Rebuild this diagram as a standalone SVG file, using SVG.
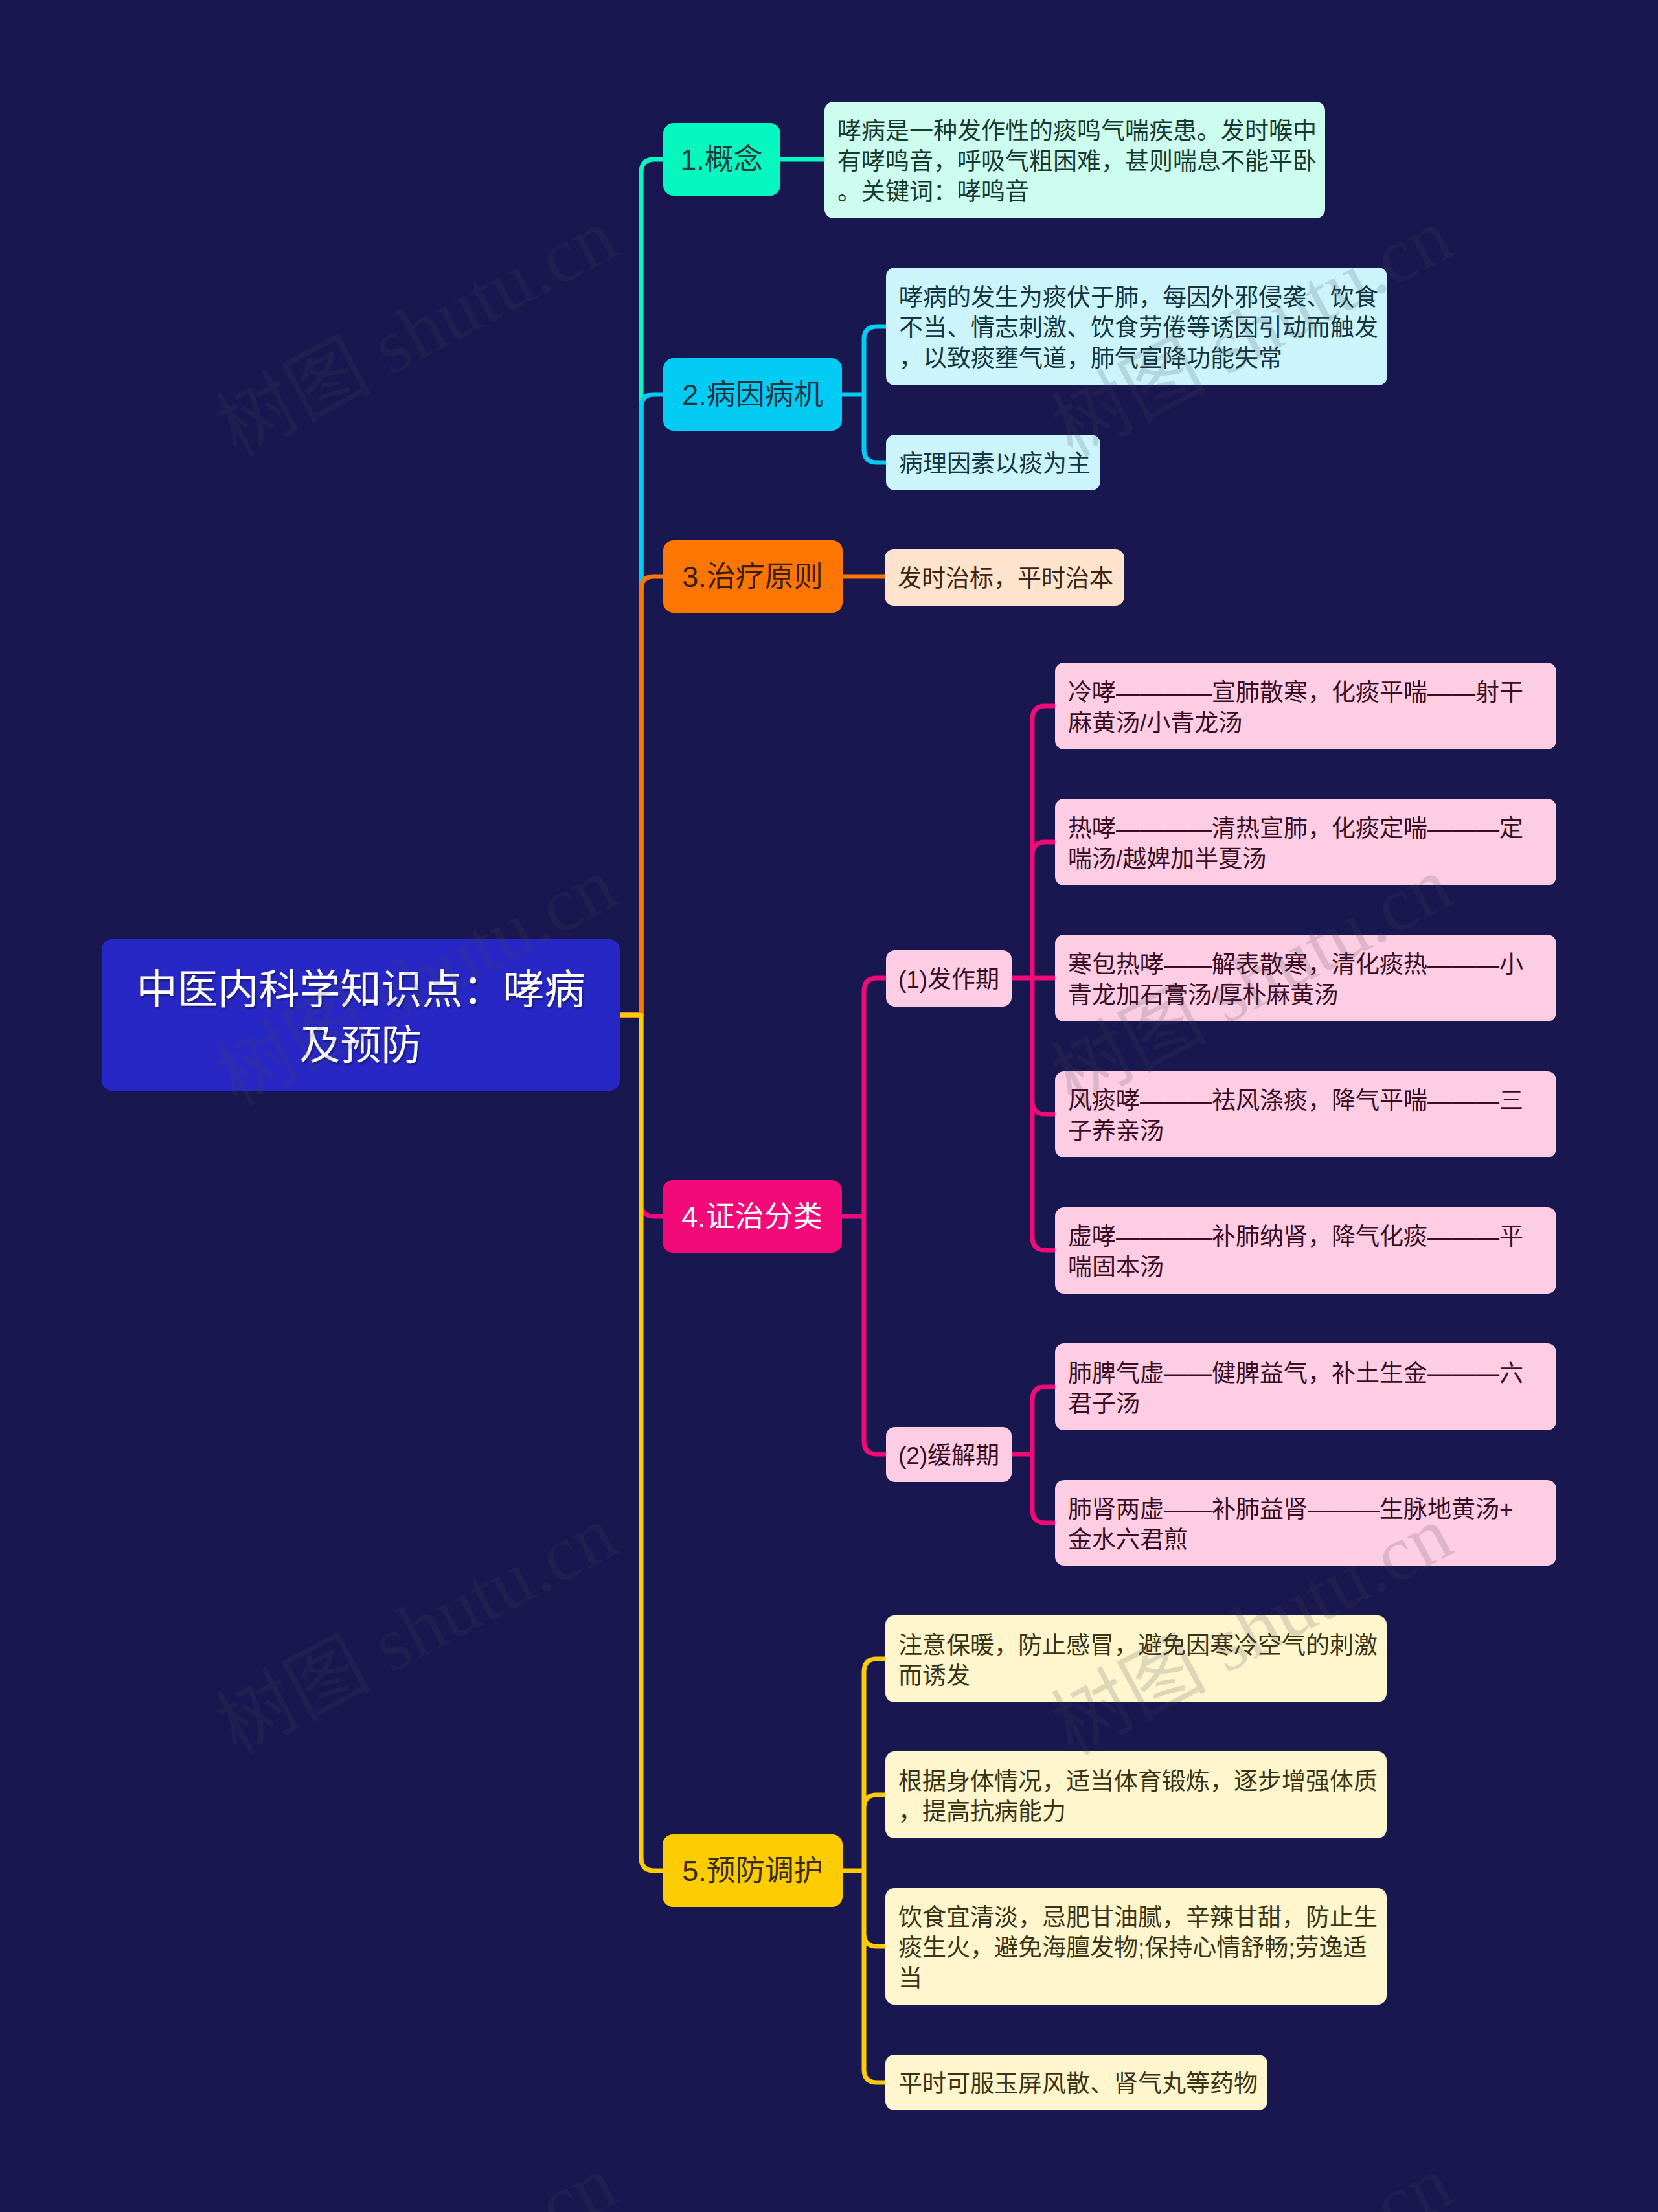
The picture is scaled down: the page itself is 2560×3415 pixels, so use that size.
<svg xmlns="http://www.w3.org/2000/svg" width="2560" height="3415" viewBox="0 0 2560 3415">
<defs>
<style>
.t{font-family:"Liberation Sans","Noto Sans CJK SC",sans-serif;}
.l1{font-size:45px;text-anchor:middle;}
.l2{font-size:37px;}
.ln{fill:none;stroke-width:7;stroke-linejoin:round;stroke-linecap:butt;}
.wm{font-family:"Liberation Serif","Noto Sans CJK SC",serif;font-size:120px;fill:#4a4a58;fill-opacity:0.18;text-anchor:middle;}
</style>
<filter id="sh" x="-5%" y="-5%" width="110%" height="120%"><feDropShadow dx="2" dy="3" stdDeviation="1.5" flood-color="#000" flood-opacity="0.35"/></filter>
</defs>
<rect x="0" y="0" width="2560" height="3415" fill="#18174f"/>

<g id="connectors">
<path class="ln" stroke="#06f7c0" d="M957 1567 H990 V266 Q990 246 1010 246 H1024"/>
<path class="ln" stroke="#02ccf4" d="M957 1567 H990 V629 Q990 609 1010 609 H1024"/>
<path class="ln" stroke="#fd7604" d="M957 1567 H990 V910 Q990 890 1010 890 H1024"/>
<path class="ln" stroke="#f10a78" d="M957 1567 H990 V1858 Q990 1878 1010 1878 H1024"/>
<path class="ln" stroke="#fecc02" d="M957 1567 H990 V2868 Q990 2888 1010 2888 H1024"/>
<path class="ln" stroke="#06f7c0" d="M1205 246 H1273"/>
<path class="ln" stroke="#02ccf4" d="M1300 609 H1334 V524 Q1334 504 1354 504 H1368 M1334 609 V694 Q1334 714 1354 714 H1368"/>
<path class="ln" stroke="#fd7604" d="M1301 890 H1366"/>
<path class="ln" stroke="#f10a78" d="M1300 1878 H1334 V1530 Q1334 1510 1354 1510 H1368 M1334 1878 V2225 Q1334 2245 1354 2245 H1368"/>
<path class="ln" stroke="#f10a78" d="M1562 1510 H1594 V1110 Q1594 1090 1614 1090 H1629 M1594 1320 Q1594 1300 1614 1300 H1629 M1594 1510 H1629 M1594 1510 V1700 Q1594 1720 1614 1720 H1629 M1594 1700 V1910 Q1594 1930 1614 1930 H1629"/>
<path class="ln" stroke="#f10a78" d="M1562 2245 H1594 V2161 Q1594 2141 1614 2141 H1629 M1594 2245 V2331 Q1594 2351 1614 2351 H1629"/>
<path class="ln" stroke="#fecc02" d="M1301 2888 H1334 V2581 Q1334 2561 1354 2561 H1367 M1334 2791 Q1334 2771 1354 2771 H1367 M1334 2888 V2985 Q1334 3005 1354 3005 H1367 M1334 2985 V3195 Q1334 3215 1354 3215 H1367"/>
</g>

<g id="root">
<rect x="157" y="1450" width="800" height="234" rx="16" fill="#2727c5"/>
<text class="t" font-size="63" text-anchor="middle" fill="#ffffff" filter="url(#sh)"><tspan x="557" y="1549">中医内科学知识点：哮病</tspan><tspan x="557" y="1635">及预防</tspan></text>
</g>

<g id="n1">
<rect x="1024" y="190" width="181" height="112" rx="16" fill="#06f7c0"/>
<text class="t l1" x="1114" y="262" fill="#1d3a3a">1.概念</text>
</g>
<g id="n1-1">
<rect x="1273" y="157" width="773" height="180" rx="14" fill="#cdfdef"/>
<text class="t l2" fill="#173a30"><tspan x="1293" y="215">哮病是一种发作性的痰鸣气喘疾患。发时喉中</tspan><tspan x="1293" y="262">有哮鸣音，呼吸气粗困难，甚则喘息不能平卧</tspan><tspan x="1293" y="309">。关键词：哮鸣音</tspan></text>
</g>

<g id="n2">
<rect x="1024" y="553" width="276" height="112" rx="16" fill="#02ccf4"/>
<text class="t l1" x="1162" y="625" fill="#1b3340">2.病因病机</text>
</g>
<g id="n2-1">
<rect x="1368" y="413" width="774" height="182" rx="14" fill="#cbf4fd"/>
<text class="t l2" fill="#133640"><tspan x="1388" y="472">哮病的发生为痰伏于肺，每因外邪侵袭、饮食</tspan><tspan x="1388" y="519">不当、情志刺激、饮食劳倦等诱因引动而触发</tspan><tspan x="1388" y="566">，以致痰壅气道，肺气宣降功能失常</tspan></text>
</g>
<g id="n2-2">
<rect x="1368" y="671" width="331" height="86" rx="14" fill="#cbf4fd"/>
<text class="t l2" x="1388" y="729" fill="#133640">病理因素以痰为主</text>
</g>

<g id="n3">
<rect x="1024" y="834" width="277" height="112" rx="16" fill="#fd7604"/>
<text class="t l1" x="1162" y="906" fill="#3a1e08">3.治疗原则</text>
</g>
<g id="n3-1">
<rect x="1366" y="848" width="370" height="87" rx="14" fill="#ffe3cc"/>
<text class="t l2" x="1386" y="906" fill="#3d2413">发时治标，平时治本</text>
</g>

<g id="n4">
<rect x="1023" y="1822" width="277" height="112" rx="16" fill="#f10a78"/>
<text class="t l1" x="1161" y="1894" fill="#ffffff">4.证治分类</text>
</g>
<g id="n4-1">
<rect x="1368" y="1467" width="194" height="87" rx="14" fill="#fdcde3"/>
<text class="t l2" x="1465" y="1525" text-anchor="middle" fill="#3b0d24">(1)发作期</text>
</g>
<g id="n4-1-1">
<rect x="1629" y="1023" width="774" height="134" rx="14" fill="#fdcde3"/>
<text class="t l2" fill="#3b0d24"><tspan x="1649" y="1082">冷哮————宣肺散寒，化痰平喘——射干</tspan><tspan x="1649" y="1129">麻黄汤/小青龙汤</tspan></text>
</g>
<g id="n4-1-2">
<rect x="1629" y="1233" width="774" height="134" rx="14" fill="#fdcde3"/>
<text class="t l2" fill="#3b0d24"><tspan x="1649" y="1292">热哮————清热宣肺，化痰定喘———定</tspan><tspan x="1649" y="1339">喘汤/越婢加半夏汤</tspan></text>
</g>
<g id="n4-1-3">
<rect x="1629" y="1443" width="774" height="134" rx="14" fill="#fdcde3"/>
<text class="t l2" fill="#3b0d24"><tspan x="1649" y="1502">寒包热哮——解表散寒，清化痰热———小</tspan><tspan x="1649" y="1549">青龙加石膏汤/厚朴麻黄汤</tspan></text>
</g>
<g id="n4-1-4">
<rect x="1629" y="1654" width="774" height="133" rx="14" fill="#fdcde3"/>
<text class="t l2" fill="#3b0d24"><tspan x="1649" y="1712">风痰哮———祛风涤痰，降气平喘———三</tspan><tspan x="1649" y="1759">子养亲汤</tspan></text>
</g>
<g id="n4-1-5">
<rect x="1629" y="1864" width="774" height="133" rx="14" fill="#fdcde3"/>
<text class="t l2" fill="#3b0d24"><tspan x="1649" y="1922">虚哮————补肺纳肾，降气化痰———平</tspan><tspan x="1649" y="1969">喘固本汤</tspan></text>
</g>
<g id="n4-2">
<rect x="1368" y="2203" width="194" height="85" rx="14" fill="#fdcde3"/>
<text class="t l2" x="1465" y="2260" text-anchor="middle" fill="#3b0d24">(2)缓解期</text>
</g>
<g id="n4-2-1">
<rect x="1629" y="2074" width="774" height="134" rx="14" fill="#fdcde3"/>
<text class="t l2" fill="#3b0d24"><tspan x="1649" y="2133">肺脾气虚——健脾益气，补土生金———六</tspan><tspan x="1649" y="2180">君子汤</tspan></text>
</g>
<g id="n4-2-2">
<rect x="1629" y="2285" width="774" height="132" rx="14" fill="#fdcde3"/>
<text class="t l2" fill="#3b0d24"><tspan x="1649" y="2343">肺肾两虚——补肺益肾———生脉地黄汤+</tspan><tspan x="1649" y="2390">金水六君煎</tspan></text>
</g>

<g id="n5">
<rect x="1023" y="2832" width="278" height="112" rx="16" fill="#fecc02"/>
<text class="t l1" x="1162" y="2904" fill="#3a2e08">5.预防调护</text>
</g>
<g id="n5-1">
<rect x="1367" y="2494" width="774" height="134" rx="14" fill="#fff6cd"/>
<text class="t l2" fill="#3a3314"><tspan x="1387" y="2553">注意保暖，防止感冒，避免因寒冷空气的刺激</tspan><tspan x="1387" y="2600">而诱发</tspan></text>
</g>
<g id="n5-2">
<rect x="1367" y="2704" width="774" height="134" rx="14" fill="#fff6cd"/>
<text class="t l2" fill="#3a3314"><tspan x="1387" y="2763">根据身体情况，适当体育锻炼，逐步增强体质</tspan><tspan x="1387" y="2810">，提高抗病能力</tspan></text>
</g>
<g id="n5-3">
<rect x="1367" y="2915" width="774" height="180" rx="14" fill="#fff6cd"/>
<text class="t l2" fill="#3a3314"><tspan x="1387" y="2973">饮食宜清淡，忌肥甘油腻，辛辣甘甜，防止生</tspan><tspan x="1387" y="3020">痰生火，避免海膻发物;保持心情舒畅;劳逸适</tspan><tspan x="1387" y="3067">当</tspan></text>
</g>
<g id="n5-4">
<rect x="1367" y="3172" width="590" height="86" rx="14" fill="#fff6cd"/>
<text class="t l2" x="1387" y="3230" fill="#3a3314">平时可服玉屏风散、肾气丸等药物</text>
</g>

<g id="watermark">
<text class="wm" transform="translate(645 517) rotate(-28)" x="0" y="36">树图 shutu.cn</text>
<text class="wm" transform="translate(1935 517) rotate(-28)" x="0" y="36">树图 shutu.cn</text>
<text class="wm" transform="translate(645 1519) rotate(-28)" x="0" y="36">树图 shutu.cn</text>
<text class="wm" transform="translate(1935 1519) rotate(-28)" x="0" y="36">树图 shutu.cn</text>
<text class="wm" transform="translate(645 2521) rotate(-28)" x="0" y="36">树图 shutu.cn</text>
<text class="wm" transform="translate(1935 2521) rotate(-28)" x="0" y="36">树图 shutu.cn</text>
<text class="wm" transform="translate(645 3523) rotate(-28)" x="0" y="36">树图 shutu.cn</text>
<text class="wm" transform="translate(1935 3523) rotate(-28)" x="0" y="36">树图 shutu.cn</text>
</g>
</svg>
